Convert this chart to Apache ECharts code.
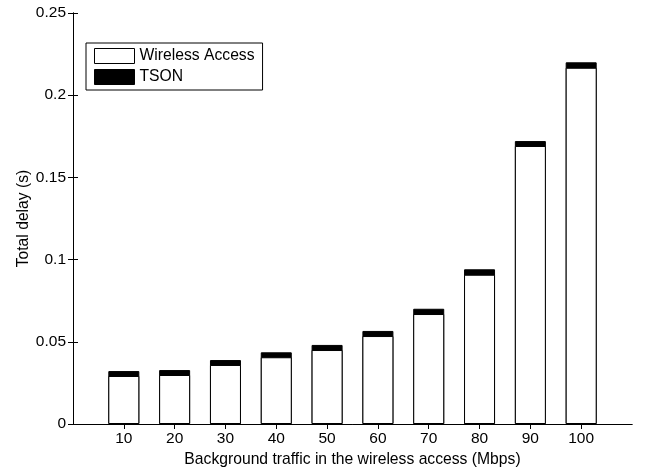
<!DOCTYPE html>
<html>
<head>
<meta charset="utf-8">
<script src="https://cdn.jsdelivr.net/npm/echarts@6/dist/echarts.min.js"></script>
<style>html,body{margin:0;padding:0;background:#fff;}#c{width:654px;height:470px;}</style>
</head>
<body>
<div id="c"></div>
<script>
const categories = [10, 20, 30, 40, 50, 60, 70, 80, 90, 100];
const wirelessAccess = [0.0292, 0.0298, 0.0359, 0.0406, 0.0450, 0.0535, 0.0669, 0.0908, 0.1691, 0.2167];
const tson = [0.0030, 0.0030, 0.0030, 0.0030, 0.0031, 0.0031, 0.0032, 0.0033, 0.0030, 0.0033];
const yTicks = [0, 0.05, 0.1, 0.15, 0.2, 0.25];

// TSON is stacked on top of the wireless access delay
const totals = categories.map((c, i) => wirelessAccess[i] + tson[i]);

const font = 'Liberation Sans, Arial, sans-serif';
const chart = echarts.init(document.getElementById('c'), null, {renderer: 'canvas'});
const axisLine = {show: true, lineStyle: {color: '#000', width: 1}};
const tick = {show: true, inside: true, length: 5, lineStyle: {color: '#000', width: 1}};
chart.setOption({
  animation: false,
  backgroundColor: '#fff',
  textStyle: {fontFamily: font, color: '#000'},
  grid: {left: 73, right: 22, top: 13, bottom: 46, containLabel: false, outerBoundsMode: 'none'},
  legend: {
    orient: 'vertical', left: 86, top: 43,
    itemWidth: 40, itemHeight: 15, itemGap: 5,
    padding: [5, 8, 5, 8],
    borderColor: '#000', borderWidth: 1,
    backgroundColor: '#fff',
    textStyle: {fontFamily: font, fontSize: 15.7, color: '#000'},
    data: [
      {name: 'Wireless Access', icon: 'rect', itemStyle: {color: '#fff', borderColor: '#000', borderWidth: 1}},
      {name: 'TSON', icon: 'rect', itemStyle: {color: '#000', borderColor: '#000', borderWidth: 1}}
    ]
  },
  xAxis: [{
    type: 'value', min: 0, max: 110, interval: 10, position: 'bottom',
    name: 'Background traffic in the wireless access (Mbps)',
    nameLocation: 'middle', nameGap: 27,
    nameTextStyle: {fontFamily: font, fontSize: 15.7, color: '#000'},
    axisLine: axisLine, axisTick: {show: true, inside: true, length: 5, lineStyle: {color: '#000'}, customValues: categories},
    axisLabel: {fontFamily: font, fontSize: 15.5, color: '#000', margin: 7, customValues: categories},
    splitLine: {show: false}
  }, {
    type: 'value', min: 0, max: 110, interval: 10, position: 'top',
    axisLine: axisLine, axisTick: {show: true, inside: true, length: 5, lineStyle: {color: '#000'}, customValues: categories},
    axisLabel: {show: false}, splitLine: {show: false}
  }],
  yAxis: [{
    type: 'value', min: 0, max: 0.25, interval: 0.05, position: 'left',
    name: 'Total delay (s)', nameLocation: 'middle', nameGap: 41, nameMoveOverlap: false,
    nameTextStyle: {fontFamily: font, fontSize: 15.7, color: '#000'},
    axisLine: axisLine, axisTick: tick,
    axisLabel: {fontFamily: font, fontSize: 15.5, color: '#000', margin: 7,
      formatter: v => { const m = yTicks.find(t => Math.abs(t - v) < 1e-9); return m === undefined ? '' : String(m); }},
    splitLine: {show: false}
  }, {
    type: 'value', min: 0, max: 0.25, interval: 0.05, position: 'right',
    axisLine: axisLine, axisTick: tick, axisLabel: {show: false}, splitLine: {show: false}
  }],
  series: [{
    name: 'TSON', type: 'bar', barWidth: 31, barGap: '-100%', z: 2,
    data: categories.map((c, i) => [c, totals[i]]),
    itemStyle: {color: '#000', borderColor: '#000', borderWidth: 1}
  }, {
    name: 'Wireless Access', type: 'bar', barWidth: 31, barGap: '-100%', z: 3,
    data: categories.map((c, i) => [c, wirelessAccess[i]]),
    itemStyle: {color: '#fff', borderColor: '#000', borderWidth: 1}
  }]
});
</script>
</body>
</html>
